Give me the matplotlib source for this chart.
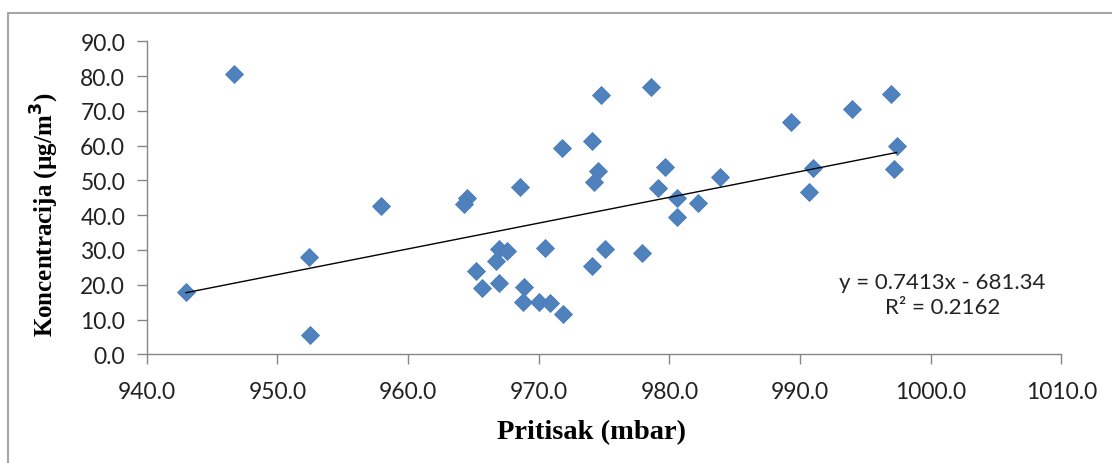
import matplotlib
matplotlib.use("Agg")
import matplotlib.pyplot as plt
from matplotlib.patches import Rectangle
from matplotlib.ticker import FormatStrFormatter
import numpy as np

# Pressure (mbar) and concentration (µg/m3) measurements
pritisak = [943.0, 946.7, 952.4, 952.5, 957.9, 964.5, 964.3, 965.2, 965.7, 966.7,
            967.0, 967.6, 967.0, 968.6, 968.9, 968.8, 970.0, 970.5, 970.9, 971.9,
            971.8, 974.05, 974.55, 974.2, 974.1, 974.76, 975.1, 977.9, 978.6, 979.65,
            979.1, 980.6, 980.6, 982.2, 983.9, 989.3, 990.7, 991.0, 994.0, 997.0,
            997.4, 997.2]
koncentracija = [17.8, 80.5, 28.0, 5.6, 42.6, 44.9, 43.2, 24.0, 19.0, 26.8,
                 30.3, 29.7, 20.5, 48.0, 19.3, 15.0, 15.0, 30.5, 14.8, 11.6,
                 59.2, 61.4, 52.8, 49.5, 25.3, 74.6, 30.2, 29.0, 76.8, 53.8,
                 47.7, 44.85, 39.4, 43.4, 50.9, 66.7, 46.6, 53.5, 70.5, 74.9,
                 59.8, 53.4]

# Linear trend line coefficients and fit quality
nagib = 0.7413
odsjecak = -681.34
r_kvadrat = 0.2162

x_ticks = [940.0, 950.0, 960.0, 970.0, 980.0, 990.0, 1000.0, 1010.0]
y_ticks = [0.0, 10.0, 20.0, 30.0, 40.0, 50.0, 60.0, 70.0, 80.0, 90.0]

W, H = 1112, 464
fig = plt.figure(figsize=(W / 100, H / 100), dpi=100)
fig.patch.set_facecolor("white")

# outer chart border
fig.add_artist(Rectangle((8 / W, -0.05), 1.2, (H - 14) / H + 0.05,
                         transform=fig.transFigure, fill=False,
                         edgecolor="#a6a6a6", linewidth=1.5))

ax = fig.add_axes([146.7 / W, 108.7 / H, (1061.3 - 146.7) / W, (355.3 - 42.3) / H])
ax.set_xlim(x_ticks[0], x_ticks[-1])
ax.set_ylim(y_ticks[0], y_ticks[-1])

ax.plot(pritisak, koncentracija, linestyle="none", marker="D", markersize=9.6,
        markerfacecolor="#4f81bd", markeredgecolor="#4a7ebb", markeredgewidth=0.6,
        zorder=3)

xs = np.array([min(pritisak), max(pritisak)])
ax.plot(xs, nagib * xs + odsjecak, color="black", linewidth=1.0, zorder=4)

ax.set_xticks(x_ticks)
ax.set_yticks(y_ticks)
ax.xaxis.set_major_formatter(FormatStrFormatter("%.1f"))
ax.yaxis.set_major_formatter(FormatStrFormatter("%.1f"))

for s in ["top", "right"]:
    ax.spines[s].set_visible(False)
for s in ["left", "bottom"]:
    ax.spines[s].set_color("#868686")
    ax.spines[s].set_linewidth(1.0)

ax.tick_params(axis="both", direction="out", length=7, width=1.0,
               color="#868686", labelcolor="#222222", labelsize=16.5)
ax.tick_params(axis="x", pad=12)
ax.tick_params(axis="y", pad=8.5)
for lab in ax.get_xticklabels() + ax.get_yticklabels():
    lab.set_fontfamily("Lato")

ax.set_xlabel("Pritisak (mbar)", fontfamily="Liberation Serif", fontweight="bold",
              fontsize=20.5, va="center")
ax.xaxis.set_label_coords((592 - 146.7) / 914.6, (355.3 - 433) / 313)
ax.set_ylabel("Koncentracija (µg/m$^\\mathbf{3}$)", fontfamily="Liberation Serif",
              fontweight="bold", fontsize=18, va="center")
ax.yaxis.set_label_coords((45 - 146.7) / 914.6, (355.3 - 215) / 313)

eq_text = f"y = {nagib:.4f}x - {abs(odsjecak):.2f}\nR² = {r_kvadrat:.4f}"
ax.text(1000.9, 17.2, eq_text, ha="center", va="center", fontsize=16,
        fontfamily="Lato", color="#222222", linespacing=1.3)

fig.savefig("out.png", dpi=100, facecolor="white")
